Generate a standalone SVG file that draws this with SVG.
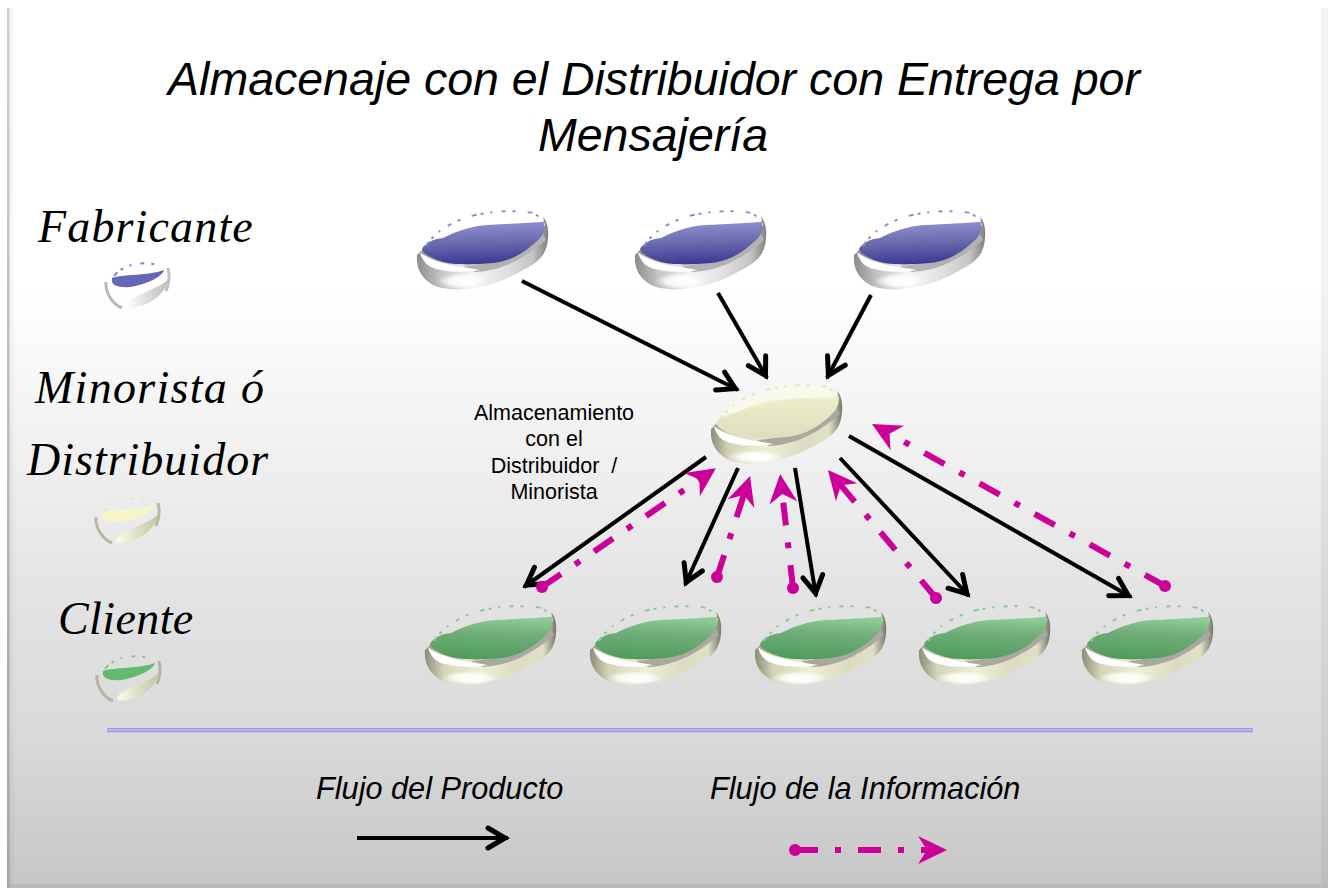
<svg xmlns="http://www.w3.org/2000/svg" xmlns:xlink="http://www.w3.org/1999/xlink" width="1328" height="888" viewBox="0 0 1328 888">
<style>
.title{font:italic 46.5px "Liberation Sans",Arial,sans-serif;fill:#000;text-anchor:middle}
.tier{font:italic 46px "Liberation Serif","Times New Roman",serif;fill:#000}
.note{font:21.5px "Liberation Sans",Arial,sans-serif;fill:#000;text-anchor:middle}
.key{font:italic 30.7px "Liberation Sans",Arial,sans-serif;fill:#000}
.prod{fill:none;stroke:#000;stroke-width:4;marker-end:url(#open)}
.info{fill:none;stroke:#cc0099;stroke-width:6;stroke-dasharray:23 17 6 17;marker-start:url(#dot);marker-end:url(#notch)}
.rim{fill:none;stroke-width:2;stroke-dasharray:5 4 3 7 2 9 4 7 3 12}
.edge{fill:none;stroke-width:3;stroke-opacity:.7}
</style>
<defs>
<linearGradient id="bg" gradientUnits="userSpaceOnUse" x1="0" y1="8" x2="0" y2="888">
<stop offset="0" stop-color="#fff"/><stop offset=".32" stop-color="#fff"/><stop offset=".67" stop-color="#e3e3e3"/><stop offset=".825" stop-color="#dadada"/><stop offset="1" stop-color="#c6c6c6"/>
</linearGradient>
<linearGradient id="edgeL" gradientUnits="userSpaceOnUse" x1="0" y1="8" x2="0" y2="888"><stop offset="0" stop-color="#d0d0d0"/><stop offset="1" stop-color="#a4a4a4"/></linearGradient>
<linearGradient id="bevelL" x1="0" x2="1" y1="0" y2="0"><stop offset="0" stop-color="#000" stop-opacity=".05"/><stop offset="1" stop-color="#000" stop-opacity="0"/></linearGradient>
<linearGradient id="bodyGrey" x1="0" x2="1" y1="0" y2="0">
<stop offset="0" stop-color="#8c8c8c"/><stop offset=".18" stop-color="#c4c4c4"/><stop offset=".42" stop-color="#f4f4f4"/><stop offset=".68" stop-color="#e0e0e0"/><stop offset=".88" stop-color="#c4c4c4"/><stop offset="1" stop-color="#808080"/>
</linearGradient>
<linearGradient id="bodyPale" x1="0" x2="1" y1="0" y2="0">
<stop offset="0" stop-color="#8d8d78"/><stop offset=".14" stop-color="#d4d4b8"/><stop offset=".42" stop-color="#efefd6"/><stop offset=".7" stop-color="#dcdcc2"/><stop offset=".9" stop-color="#e0e0c4"/><stop offset="1" stop-color="#77776a"/>
</linearGradient>
<linearGradient id="topBlue" x1=".45" y1="0" x2=".55" y2="1">
<stop offset="0" stop-color="#9090d0"/><stop offset=".5" stop-color="#6868ae"/><stop offset="1" stop-color="#383890"/>
</linearGradient>
<linearGradient id="topGreen" x1=".6" y1="0" x2=".45" y2="1">
<stop offset="0" stop-color="#8fcd98"/><stop offset=".4" stop-color="#70ad7a"/><stop offset="1" stop-color="#4f9c5c"/>
</linearGradient>
<linearGradient id="topCream" x1=".5" y1="0" x2=".5" y2="1">
<stop offset="0" stop-color="#eeeecb"/><stop offset="1" stop-color="#dedec0"/>
</linearGradient>
<radialGradient id="spec"><stop offset="0" stop-color="#fff"/><stop offset=".55" stop-color="#fff" stop-opacity=".8"/><stop offset="1" stop-color="#fff" stop-opacity="0"/></radialGradient>
<linearGradient id="miniGrey" x1="0" x2="1" y1="0" y2="0"><stop offset="0" stop-color="#fff"/><stop offset="1" stop-color="#bdbdbd"/></linearGradient>
<linearGradient id="miniPale" x1="0" x2="1" y1="0" y2="0"><stop offset="0" stop-color="#fbfbe8"/><stop offset="1" stop-color="#c4c4a6"/></linearGradient>
<filter id="soft" x="-10%" y="-10%" width="120%" height="120%"><feGaussianBlur stdDeviation=".6"/></filter>

<path id="dBody" d="M-66,5C-67,18-62,28-50,35C-40,40-20,41-5,37C15,34 30,26 44,18C55,12 64,5 65,-12C66,-20 64,-30 60,-33L62,-24L-61,0Z"/>
<path id="dCres" d="M-63,2C-60,14-52,18-46,19C-30,23-15,22-3,20C-20,17-50,14-63,2Z"/>
<path id="dBand" d="M-20,16C10,14 40,2 60,-16L63,-10C45,6 20,21-8,22Z"/>
<path id="dTop" d="M-61,-1C-58,-7-50,-11-40,-12C-25,-20-10,-24 5,-25C25,-26 45,-27 58,-28C63,-27 63,-20 57,-12C45,0 30,11 10,13C-10,15-30,15-40,12C-50,9-60,4-61,-1Z"/>
<path id="dRim" d="M-57,-4C-48,-18-33,-27-15,-33C0,-38 30,-41 50,-37C56,-34 60,-30 61,-25"/>
<path id="mTop" d="M-26,-6C-15,-10 10,-8 26,-14C25,-8 10,0-8,3C-18,4-28,2-26,-6Z"/>
<path id="mSpec" d="M-8,16C5,8 20,4 30,-4C28,8 15,20-2,23C-14,25-14,22-8,16Z"/>
<path id="mRim" d="M-24,-8C-15,-20 5,-24 24,-18"/>
<path id="mL" d="M-32,-2C-33,8-26,20-16,24"/>
<path id="mR" d="M30,-16C32,-8 31,0 28,7"/>

<g id="discBlue">
<g filter="url(#soft)">
<use href="#dBody" fill="url(#bodyGrey)"/>
<use href="#dBand" fill="#b2b2b2"/>
<use href="#dCres" fill="#fff"/>
<ellipse cx="-20" cy="31" rx="26" ry="8" fill="url(#spec)"/>
<use href="#dTop" fill="url(#topBlue)"/>
</g>
<use href="#dRim" class="rim" stroke="#8d8dc8"/>
</g>
<g id="discGreen">
<g filter="url(#soft)">
<use href="#dBody" fill="url(#bodyPale)"/>
<use href="#dBand" fill="#a9a9a2"/>
<use href="#dCres" fill="#fff"/>
<ellipse cx="-22" cy="33" rx="28" ry="7" fill="url(#spec)"/>
<use href="#dTop" fill="url(#topGreen)"/>
</g>
<use href="#dRim" class="rim" stroke="#8fc796"/>
</g>
<g id="discCream">
<g filter="url(#soft)">
<use href="#dBody" fill="url(#bodyPale)"/>
<use href="#dBand" fill="#a9a9a2"/>
<use href="#dCres" fill="#fff"/>
<ellipse cx="-22" cy="33" rx="28" ry="7" fill="url(#spec)"/>
<use href="#dTop" fill="url(#topCream)"/>
<path d="M-57,-4C-48,-18-33,-27-15,-33C0,-38 30,-41 50,-37C58,-33 60,-30 60,-25L20,-26C-15,-22-35,-14-50,-8Z" fill="#fbfbe6" fill-opacity=".55"/>
</g>
<use href="#dRim" class="rim" stroke="#e6e6bc"/>
</g>
<g id="miniBlue">
<g filter="url(#soft)">
<use href="#mL" class="edge" stroke="#9a9a9a"/><use href="#mR" class="edge" stroke="#a8a8a8"/>
<use href="#mSpec" fill="url(#miniGrey)"/><use href="#mTop" fill="#6666b8"/>
</g>
<use href="#mRim" class="rim" stroke="#8484c8"/>
</g>
<g id="miniCream">
<g filter="url(#soft)">
<use href="#mL" class="edge" stroke="#a3a38c"/><use href="#mR" class="edge" stroke="#a3a38c"/>
<use href="#mSpec" fill="url(#miniPale)"/><use href="#mTop" fill="#f5f5c8"/>
</g>
<use href="#mRim" class="rim" stroke="#e8e8c0"/>
</g>
<g id="miniGreen">
<g filter="url(#soft)">
<use href="#mL" class="edge" stroke="#a3a38c"/><use href="#mR" class="edge" stroke="#a3a38c"/>
<use href="#mSpec" fill="url(#miniPale)"/><use href="#mTop" fill="#62ba6c"/>
</g>
<use href="#mRim" class="rim" stroke="#88c890"/>
</g>
<marker id="open" markerUnits="userSpaceOnUse" orient="auto" overflow="visible" markerWidth="30" markerHeight="30" refX="0" refY="0">
<path d="M-20,-10L-3,0L-20,10" fill="none" stroke="#000" stroke-width="5" stroke-linecap="round"/>
</marker>
<marker id="notch" markerUnits="userSpaceOnUse" orient="auto" overflow="visible" markerWidth="40" markerHeight="40" refX="0" refY="0">
<path d="M-17,-14L12,0L-17,14L-8,0Z" fill="#cc0099"/>
</marker>
<marker id="dot" markerUnits="userSpaceOnUse" overflow="visible" markerWidth="14" markerHeight="14" refX="0" refY="0">
<circle r="6" fill="#cc0099"/>
</marker>
</defs>

<rect id="background" x="8" y="8" width="1320" height="880" fill="url(#bg)"/>
<rect x="7" y="8" width="2.5" height="880" fill="url(#edgeL)"/>
<rect x="9.5" y="8" width="7" height="880" fill="url(#bevelL)"/>
<rect x="1321" y="8" width="7" height="880" fill="#000" fill-opacity=".05"/>
<rect x="9.5" y="884" width="1311.5" height="4" fill="#000" fill-opacity=".05"/>

<g id="title">
<text class="title" x="654" y="95">Almacenaje con el Distribuidor con Entrega por</text>
<text class="title" x="653" y="151">Mensajería</text>
</g>
<g id="tier-labels">
<text class="tier" x="38" y="242" letter-spacing="1.15">Fabricante</text>
<text class="tier" x="35" y="403" letter-spacing="1.3">Minorista ó</text>
<text class="tier" x="27" y="475" letter-spacing="1">Distribuidor</text>
<text class="tier" x="58" y="634" letter-spacing=".4">Cliente</text>
</g>
<g id="legend-fabricante"><use href="#miniBlue" x="138" y="284"/></g>
<g id="legend-distribuidor"><use href="#miniCream" x="128" y="519"/></g>
<g id="legend-cliente"><use href="#miniGreen" x="129" y="677"/></g>

<g id="fabricante-1"><use href="#discBlue" x="483" y="250"/></g>
<g id="fabricante-2"><use href="#discBlue" x="701" y="250"/></g>
<g id="fabricante-3"><use href="#discBlue" x="920" y="250"/></g>
<g id="distribuidor"><use href="#discCream" x="777" y="424"/></g>
<g id="cliente-1"><use href="#discGreen" x="491" y="645"/></g>
<g id="cliente-2"><use href="#discGreen" x="656" y="645"/></g>
<g id="cliente-3"><use href="#discGreen" x="821" y="645"/></g>
<g id="cliente-4"><use href="#discGreen" x="985" y="645"/></g>
<g id="cliente-5"><use href="#discGreen" x="1148" y="645"/></g>

<g id="note">
<text class="note" x="554" y="420">Almacenamiento</text>
<text class="note" x="554" y="446">con el</text>
<text class="note" x="554" y="473" xml:space="preserve">Distribuidor  /</text>
<text class="note" x="554" y="499">Minorista</text>
</g>

<g id="connectors">
<path class="prod" d="M522,281L738,390"/>
<path class="prod" d="M718,293L767,378"/>
<path class="prod" d="M871,295L827,378"/>
<path class="prod" d="M706,457L524,587"/>
<path class="prod" d="M738,468L685,585"/>
<path class="prod" d="M795,468L816,596"/>
<path class="prod" d="M840,458L969,596"/>
<path class="prod" d="M849,436L1131,597"/>
<path class="info" d="M542,587L706,475"/>
<path class="info" d="M717,577L746.3,487.4"/>
<path class="info" d="M793,588L781.4,486"/>
<path class="info" d="M936,598L835.7,479.2"/>
<path class="info" d="M1165,586L882.5,429.8"/>
</g>

<g id="divider">
<path d="M107,728.8H1253M107,731.4H1253" stroke="#a98cf0" stroke-width="1.6" fill="none"/>
</g>
<g id="legend">
<text class="key" x="316" y="799">Flujo del Producto</text>
<text class="key" x="710" y="799">Flujo de la Información</text>
<path class="prod" d="M357,838H508"/>
<path class="info" d="M795,850H935"/>
</g>
</svg>
